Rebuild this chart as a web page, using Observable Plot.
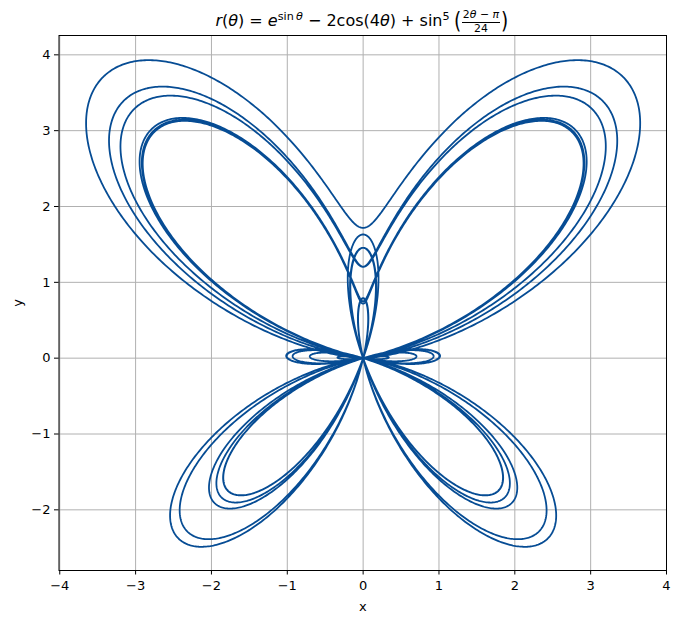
<!DOCTYPE html>
<html>
<head>
<meta charset="utf-8">
<script src="https://cdn.jsdelivr.net/npm/d3@7"></script>
<script src="https://cdn.jsdelivr.net/npm/@observablehq/plot@0.6"></script>
<style>
  body { margin: 0; background: #fff; }
  #wrap { position: relative; width: 680px; height: 623px; font-family: "DejaVu Sans", sans-serif; }
  #title { position: absolute; left: 58.5px; width: 607.5px; top: 9px; text-align: center; font-size: 16px; color: #000; white-space: nowrap; line-height: 1; }
  #title i { font-style: oblique; }
  #title sup { font-size: 0.7em; vertical-align: 0.5em; line-height: 0; }
  .frac { display: inline-block; vertical-align: -6px; font-size: 0.68em; text-align: center; line-height: 1.1; }
  .frac span { display: block; }
  .frac .num { border-bottom: 1px solid #000; padding: 0 1px 1px 1px; }
  .paren { display: inline-block; font-size: 1.45em; transform: scaleX(0.8); vertical-align: -0.12em; line-height: 0.8; }
</style>
</head>
<body>
<div id="wrap">
  <div id="title"><i>r</i>(<i>θ</i>) = <i>e</i><sup>sin&thinsp;<i>θ</i></sup> − 2cos(4<i>θ</i>) + sin<sup>5</sup>&thinsp;<span class="paren">(</span><span class="frac"><span class="num">2<i>θ</i> − <i>π</i></span><span>24</span></span><span class="paren">)</span></div>
</div>
<script>
// Curve parameters (the chart is the polar curve named in its title)
const thetaStart = 0;
const thetaEnd = 12 * Math.PI;
const sampleCount = 9000;

// Axis ticks and ranges
const xTicks = [-4, -3, -2, -1, 0, 1, 2, 3, 4];
const yTicks = [-2, -1, 0, 1, 2, 3, 4];
const xDomain = [-4.01, 4.0];
const yDomain = [-2.80, 4.255];

const points = d3.range(sampleCount + 1).map(i => {
  const t = thetaStart + (thetaEnd - thetaStart) * i / sampleCount;
  const r = Math.exp(Math.sin(t)) - 2 * Math.cos(4 * t) + Math.pow(Math.sin((2 * t - Math.PI) / 24), 5);
  return {x: r * Math.cos(t), y: r * Math.sin(t)};
});

const fmt = d3.format("d");

const chart = Plot.plot({
  width: 680,
  height: 623,
  marginLeft: 58.5,
  marginRight: 14,
  marginTop: 35,
  marginBottom: 53,
  style: {fontFamily: "DejaVu Sans, sans-serif", fontSize: "13px", color: "#000", background: "#fff"},
  x: {domain: xDomain},
  y: {domain: yDomain},
  marks: [
    Plot.gridX(xTicks, {stroke: "#b0b0b0", strokeOpacity: 1, strokeWidth: 1}),
    Plot.gridY(yTicks, {stroke: "#b0b0b0", strokeOpacity: 1, strokeWidth: 1}),
    Plot.line(points, {x: "x", y: "y", stroke: "#064c94", strokeWidth: 1.8, curve: "linear"}),
    Plot.frame({stroke: "#000", strokeWidth: 1}),
    Plot.axisX(xTicks, {tickSize: 4.5, tickPadding: 5.5, fontSize: 13, tickFormat: fmt, label: "x", labelAnchor: "center", labelArrow: "none", labelOffset: 40}),
    Plot.axisY(yTicks, {tickSize: 4.5, tickPadding: 4, fontSize: 13, tickFormat: fmt, label: "y", labelAnchor: "center", labelArrow: "none", labelOffset: 46})
  ]
});
document.getElementById("wrap").prepend(chart);
</script>
</body>
</html>
